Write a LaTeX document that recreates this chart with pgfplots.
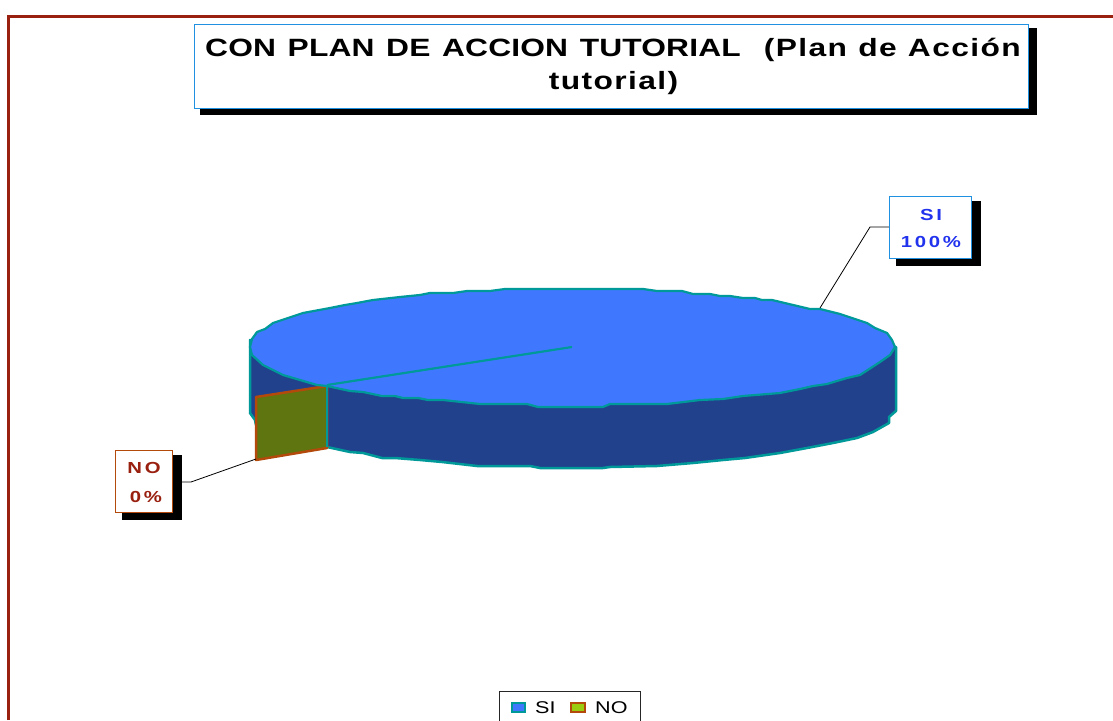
\documentclass[border=0pt]{standalone}
\usepackage{fontspec}
\setmainfont{Liberation Sans}
\usepackage{pgfplots}
\pgfplotsset{compat=1.18}
\definecolor{topb}{HTML}{3F78FF}
\definecolor{sideb}{HTML}{21418C}
\definecolor{teal2}{HTML}{009999}
\definecolor{rust}{HTML}{B34A0B}
\definecolor{olive2}{HTML}{5E7510}
\definecolor{frame2}{HTML}{99200F}
\definecolor{boxb}{HTML}{2090E0}
\definecolor{lblb}{HTML}{2233EE}
\definecolor{lime2}{HTML}{9ACD10}
\newfontface\ttlA{Liberation Sans Bold}[FakeStretch=1.27,LetterSpace=0.6,WordSpace=1.3]
\newfontface\ttlB{Liberation Sans Bold}[FakeStretch=1.27,LetterSpace=5.6,WordSpace=1.1]
\newfontface\lblf{Liberation Sans Bold}[FakeStretch=1.27,LetterSpace=17]
\newfontface\lgf{Liberation Sans}[FakeStretch=1.27]
\begin{document}
\begin{tikzpicture}
\begin{axis}[
  scale only axis, width=1113pt, height=720pt,
  xmin=0, xmax=1113, ymin=0, ymax=720, y dir=reverse,
  hide axis, clip=true,
]
% canvas
\addplot[draw=none, fill=white] coordinates {(0,0) (1113,0) (1113,720) (0,720)} --cycle;
% frame
\addplot[frame2, line width=3pt] coordinates {(8,720) (8,16) (1113,16)};
% title box
\addplot[draw=none, fill=black] coordinates {(200,28) (1037,28) (1037,115) (200,115)} --cycle;
\addplot[boxb, line width=1pt, fill=white] coordinates {(194.5,24.5) (1028,24.5) (1028,108) (194.5,108)} --cycle;
% pie side
\addplot[teal2, line width=2.5pt, line join=round, fill=sideb] coordinates {
 (250,340) (250,413) (255,420) (256,425) (327,447) (350,452) (363,453) (382,458) (395,458) (420,460) (442,462)
 (477,466) (530,466) (540,468) (603,468) (610,467) (657,466) (693,463) (723,460) (745,458) (780,453)
 (807,448) (833,443) (857,438) (873,432) (889,423) (889,417) (896,411) (896,347)
 } --cycle;
% wedge NO
\addplot[rust, line width=2.5pt, line join=round, fill=olive2] coordinates {
 (256,397) (327,386) (327,448) (256,460)} --cycle;
\addplot[teal2, line width=2.5pt] coordinates {(327,386) (327,447)};
% pie top
\addplot[teal2, line width=2.2pt, line join=round, fill=topb] coordinates {
 (250,347) (252,339) (257,332) (265,329) (273,323) (288,318) (303,313) (330,308) (345,305) (357,303) (373,300) (400,297)
 (420,295) (430,293) (453,293) (467,291) (490,291) (505,289) (643,289) (657,291) (682,291) (693,294) (710,294)
 (720,296) (730,296) (743,298) (755,298) (762,300) (772,300) (810,309) (820,309) (840,314)
 (867,323) (875,328) (887,333) (892,340) (895,347) (890,355) (880,362) (860,375) (847,378) (827,384) (813,386)
 (800,389) (780,393) (743,396) (723,399) (700,400) (667,404) (610,404) (603,407) (538,407) (527,404) (480,404)
 (443,400) (428,400) (418,398) (403,398) (395,396) (382,396) (363,392) (350,391) (327,386)
 (317,385) (283,375) (263,365) (252,355)} --cycle;
\addplot[teal2, line width=2.2pt] coordinates {(327,385) (572,347)};
% leaders
\addplot[black, line width=0.8pt] coordinates {(820,308) (870,227) (889,227)};
\addplot[black, line width=0.8pt] coordinates {(182,482) (191,482) (256,459)};
% SI label
\addplot[draw=none, fill=black] coordinates {(896,201) (981,201) (981,266) (896,266)} --cycle;
\addplot[boxb, line width=0.8pt, fill=white] coordinates {(889.5,196.5) (971.5,196.5) (971.5,258) (889.5,258)} --cycle;
% NO label
\addplot[draw=none, fill=black] coordinates {(122,455) (182,455) (182,520) (122,520)} --cycle;
\addplot[rust, line width=0.8pt, fill=white] coordinates {(115.5,450.5) (172,450.5) (172,512.5) (115.5,512.5)} --cycle;
% legend
\addplot[black!85, line width=1pt] coordinates {(499,721) (499,691.5) (640.5,691.5) (640.5,721)};
\addplot[teal2, line width=2pt, fill=topb] coordinates {(512,703) (525,703) (525,711.5) (512,711.5)} --cycle;
\addplot[rust, line width=2pt, fill=lime2] coordinates {(571,703) (585,703) (585,711.5) (571,711.5)} --cycle;
% texts
\node[anchor=base west, inner sep=0pt] at (axis cs:205,56) {\fontsize{25}{30}\selectfont\ttlA CON PLAN DE ACCION TUTORIAL};
\node[anchor=base east, inner sep=0pt] at (axis cs:1021,56) {\fontsize{25}{30}\selectfont\ttlB (Plan de Acción};
\node[anchor=base, inner sep=0pt] at (axis cs:613.5,89) {\fontsize{25}{30}\selectfont\ttlB tutorial)};
\node[anchor=base, inner sep=0pt, text=lblb] at (axis cs:931,220) {\fontsize{16}{20}\selectfont\lblf SI};
\node[anchor=base, inner sep=0pt, text=lblb] at (axis cs:931,247) {\fontsize{16}{20}\selectfont\lblf 100\%};
\node[anchor=base, inner sep=0pt, text=frame2] at (axis cs:144,473) {\fontsize{16}{20}\selectfont\lblf NO};
\node[anchor=base, inner sep=0pt, text=frame2] at (axis cs:146,502) {\fontsize{16}{20}\selectfont\lblf 0\%};
\node[anchor=base west, inner sep=0pt] at (axis cs:535,713) {\fontsize{17}{20}\selectfont\lgf SI};
\node[anchor=base west, inner sep=0pt] at (axis cs:595,713) {\fontsize{17}{20}\selectfont\lgf NO};
\end{axis}
\end{tikzpicture}
\end{document}
